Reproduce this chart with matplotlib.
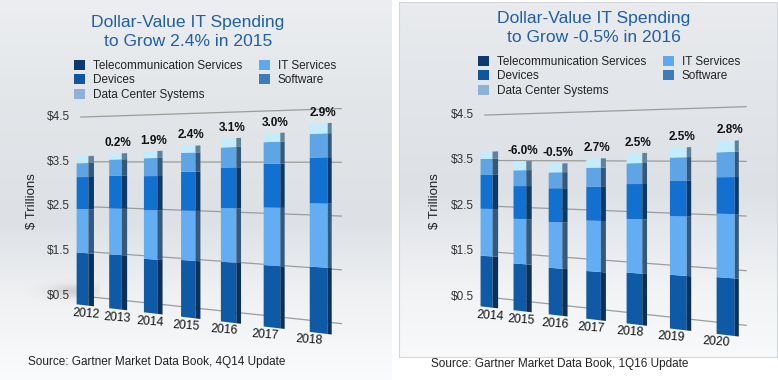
import numpy as np
import matplotlib
matplotlib.use("Agg")
import matplotlib.pyplot as plt
from matplotlib.transforms import Transform, offset_copy
from matplotlib.patches import Patch, Rectangle
from matplotlib.colors import to_rgb

plt.rcParams['font.family'] = ['Liberation Sans', 'DejaVu Sans']

# $ trillions. stacking order bottom -> top:
# Telecommunication Services, IT Services, Devices, Software, Data Center Systems
years_4q14 = ['2012', '2013', '2014', '2015', '2016', '2017', '2018']
telecom_4q14 = [1.27, 1.28, 1.23, 1.26, 1.28, 1.27, 1.30]
it_services_4q14 = [1.07, 1.09, 1.12, 1.10, 1.15, 1.19, 1.26]
devices_4q14 = [0.78, 0.78, 0.78, 0.86, 0.87, 0.90, 0.91]
software_4q14 = [0.34, 0.38, 0.41, 0.42, 0.43, 0.45, 0.47]
dcs_4q14 = [0.17, 0.14, 0.16, 0.15, 0.19, 0.18, 0.20]
growth_4q14 = ['', '0.2%', '1.9%', '2.4%', '3.1%', '3.0%', '2.9%']

years_1q16 = ['2014', '2015', '2016', '2017', '2018', '2019', '2020']
telecom_1q16 = [1.23, 1.10, 1.06, 1.05, 1.08, 1.10, 1.12]
it_services_1q16 = [1.14, 1.05, 1.04, 1.11, 1.14, 1.20, 1.25]
devices_1q16 = [0.82, 0.77, 0.77, 0.74, 0.74, 0.73, 0.72]
software_1q16 = [0.39, 0.37, 0.36, 0.42, 0.44, 0.47, 0.49]
dcs_1q16 = [0.17, 0.21, 0.20, 0.20, 0.21, 0.20, 0.22]
growth_1q16 = ['', '-6.0%', '-0.5%', '2.7%', '2.5%', '2.5%', '2.8%']

grid_values = [0.5, 1.5, 2.5, 3.5, 4.5]
legend_labels = ['Telecommunication Services', 'Devices', 'Data Center Systems',
                 'IT Services', 'Software']
legend_colors = ['#0d3a6e', '#0f55a0', '#8db1d8', '#5ea8ef', '#3d7cba']

front_colors = ['#0f5aa6', '#63adf3', '#1170d0', '#5ea5e6', '#c3ecfd']
side_colors = ['#0b3158', '#34597c', '#0c3a66', '#33587a', '#61829b']
title_color = '#1f5fa6'


class Perspective(Transform):
    """(bar index, value) -> image pixels, vanishing point off to the left."""
    input_dims = 2
    output_dims = 2
    is_separable = False
    has_inverse = False

    def __init__(self, x0, y0, a, c, s, k=-0.0316):
        super().__init__()
        self.x0, self.y0, self.a, self.c, self.s, self.k = x0, y0, a, c, s, k

    def transform_non_affine(self, values):
        values = np.asarray(values, dtype=float).reshape(-1, 2)
        i, v = values[:, 0], values[:, 1]
        w = 1 + self.k * i
        return np.column_stack([self.x0 + self.a * i / w,
                                self.y0 + (self.c * i - self.s * v) / w])


fig = plt.figure(figsize=(7.78, 3.80), dpi=100)
ax = fig.add_axes([0, 0, 1, 1])
ax.axis('off')


def gradient(x0, x1, y0, y1, stops, colors):
    rows = np.arange(y0, y1) + 0.5
    rgb = np.array([to_rgb(c) for c in colors])
    img = np.stack([np.interp(rows, stops, rgb[:, j]) for j in range(3)], axis=-1)
    img = np.repeat(img[:, None, :], 2, axis=1)
    ax.imshow(img, extent=(x0, x1, y1, y0), aspect='auto', zorder=0,
              interpolation='bilinear')


# panel backgrounds
gradient(0, 392, 0, 380, [0, 100, 220, 290, 380],
         ['#eceef1', '#e3e6e9', '#dde1e5', '#eef0f2', '#fafbfc'])
gradient(399, 778, 2, 357, [2, 100, 190, 290, 357],
         ['#e9ebee', '#e2e5e9', '#dde1e6', '#f2f3f5', '#f8f9fa'])
ax.add_patch(Rectangle((399, 2), 378.5, 355, fill=False, edgecolor='#d3d7db',
                       linewidth=0.8, zorder=0.5))

# soft floor shadow left of the first bar (left panel)
gx, gy = np.meshgrid(np.linspace(-1, 1, 80), np.linspace(-1, 1, 40))
blob = np.exp(-((gx - 0.4) ** 2 / 0.3 + (gy - 0.1) ** 2 / 0.1))
shadow = np.zeros(blob.shape + (4,))
shadow[..., :3] = 0.4
shadow[..., 3] = 0.22 * blob
ax.imshow(shadow, extent=(10, 100, 310, 268), aspect='auto', zorder=0.6,
          interpolation='bilinear')


def draw_panel(bar_tr, wall_tr, year_tr, years, stack, growth):
    x = np.arange(len(years))
    bottom = np.zeros(len(years))
    depth = 0.17 - 0.015 * x
    for vals, fc, sc in zip(stack, front_colors, side_colors):
        ax.bar(x, vals, width=0.37, bottom=bottom, color=fc, linewidth=0,
               transform=bar_tr, zorder=3)
        ax.bar(x + 0.185, vals, width=depth, bottom=bottom, align='edge',
               color=sc, linewidth=0, transform=bar_tr, zorder=3)
        bottom = bottom + np.asarray(vals)

    tick_tr = offset_copy(wall_tr, fig=fig, x=-11, y=0, units='dots')
    for g in grid_values:
        ax.plot([-0.05, 6.45], [g, g], color='#9c9c9c', lw=0.9,
                transform=wall_tr, zorder=1)
        ax.text(-0.05, g, '$%.1f' % g, transform=tick_tr, ha='right',
                va='center', fontsize=8.5, color='#333333')

    pct_tr = offset_copy(bar_tr, fig=fig, x=0, y=10.5, units='dots')
    for xi, tot, g in zip(x, bottom, growth):
        ax.text(xi + 0.08, tot, g, transform=pct_tr, ha='center', va='center',
                fontsize=8.5, fontweight='bold', color='#111111', zorder=4)
    for xi, yr in zip(x, years):
        ax.text(xi, 0, yr, transform=year_tr, ha='center', va='center',
                rotation=-4, rotation_mode='anchor', fontsize=8.8,
                color='#111111', zorder=4)


# left panel: 4Q14 update
draw_panel(Perspective(82.5, 305, 31.9, 3.78, 41.0) + ax.transData,
           Perspective(82.5, 318.4, 33.4, 4.14, 44.75, k=-0.026) + ax.transData,
           Perspective(86, 314, 30.2, 3.51, 0.0) + ax.transData,
           years_4q14,
           [telecom_4q14, it_services_4q14, devices_4q14, software_4q14, dcs_4q14],
           growth_4q14)

# right panel: 1Q16 update
draw_panel(Perspective(486.5, 307, 32.3, 3.78, 41.4) + ax.transData,
           Perspective(486.5, 319.75, 33.5, 4.25, 45.5, k=-0.026) + ax.transData,
           Perspective(490, 316, 30.6, 3.51, 0.0) + ax.transData,
           years_1q16,
           [telecom_1q16, it_services_1q16, devices_1q16, software_1q16, dcs_1q16],
           growth_1q16)

# titles, axis labels, sources
ax.text(188, 32, 'Dollar-Value IT Spending\nto Grow 2.4% in 2015', ha='center',
        va='center', fontsize=12.6, color=title_color, linespacing=1.25)
ax.text(593.5, 28, 'Dollar-Value IT Spending\nto Grow -0.5% in 2016', ha='center',
        va='center', fontsize=12.6, color=title_color, linespacing=1.25)
ax.text(32.5, 201, '$ Trillions', rotation=90, ha='center', va='center',
        fontsize=9.5, color='#222222')
ax.text(435, 201, '$ Trillions', rotation=90, ha='center', va='center',
        fontsize=9.5, color='#222222')
ax.text(28, 362, 'Source: Gartner Market Data Book, 4Q14 Update', ha='left',
        va='center', fontsize=8.5, color='#222222')
ax.text(431, 364, 'Source: Gartner Market Data Book, 1Q16 Update', ha='left',
        va='center', fontsize=8.5, color='#222222')

# legends
handles = [Patch(facecolor=c, edgecolor='none') for c in legend_colors]
leg_kw = dict(ncol=2, loc='upper left', bbox_transform=ax.transData,
              frameon=False, fontsize=8.5, handlelength=0.95, handleheight=0.95,
              handletextpad=0.65, labelspacing=0.18, columnspacing=1.4,
              borderpad=0, borderaxespad=0, labelcolor='#222222')
leg1 = ax.legend(handles, legend_labels, bbox_to_anchor=(74, 60), **leg_kw)
ax.add_artist(leg1)
ax.legend(handles, legend_labels, bbox_to_anchor=(478, 56), **leg_kw)

ax.set_xlim(0, 778)
ax.set_ylim(380, 0)
fig.savefig('out.png', dpi=100)
